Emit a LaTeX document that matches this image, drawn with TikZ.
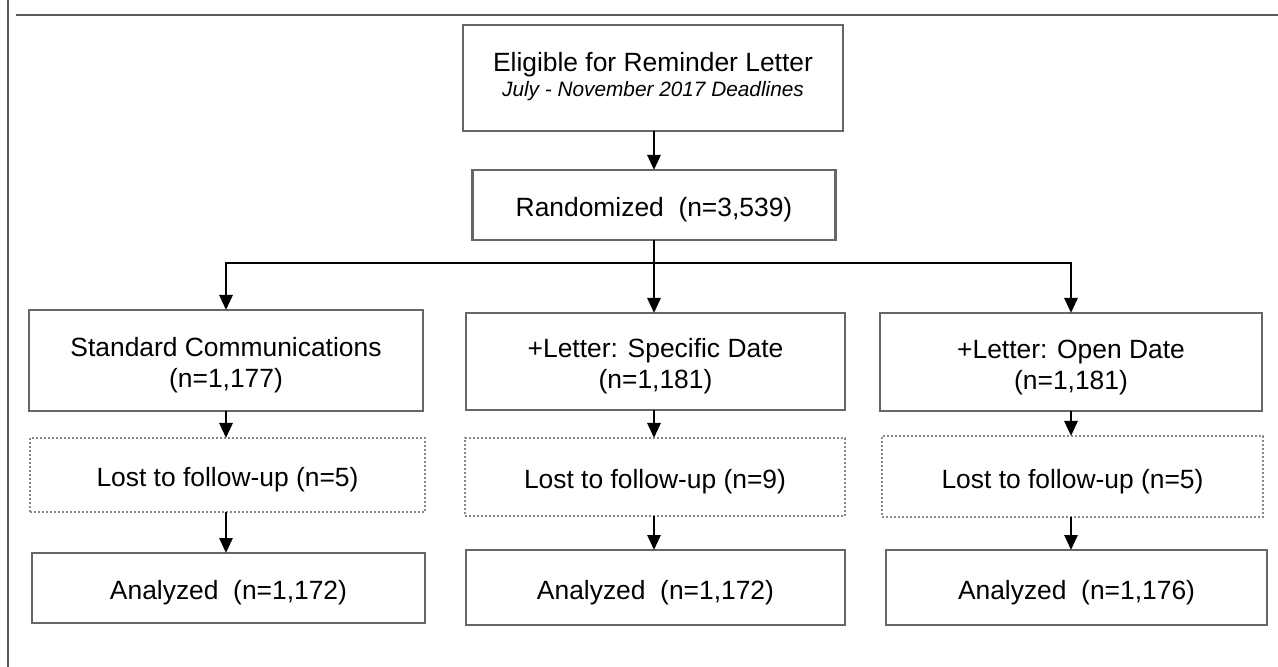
\documentclass[tikz,border=0pt]{standalone}
\usepackage{fontspec}
\setmainfont{Liberation Sans}
\usetikzlibrary{arrows.meta,calc}
\definecolor{boxgray}{HTML}{666666}
\definecolor{dotgray}{HTML}{888888}
\definecolor{framegray}{HTML}{5A5A5A}
\newcommand{\tx}[1]{\raisebox{-2.8pt}[\height][\depth]{\begin{tabular}{@{}c@{}}#1\end{tabular}}}
\begin{document}
\begin{tikzpicture}[x=0.5pt,y=-0.5pt,
  every node/.style={font=\fontsize{13.2}{15.5}\selectfont, inner sep=0pt, outer sep=0pt},
  solidbox/.style={draw=boxgray, line width=1.4pt, rectangle},
  dotbox/.style={draw=dotgray, line width=0.8pt, dash pattern=on 1pt off 1pt, rectangle},
  arr/.style={draw=black, line width=1.4pt, -{Triangle[length=7.5pt,width=6.5pt]}},
  conn/.style={draw=black, line width=1.4pt},
  frameline/.style={draw=framegray, line width=1pt}
]
\useasboundingbox (0,0) rectangle (1278,667);
% frame
\coordinate (ftop) at (8,0);
\coordinate (fbot) at (8,667);
\coordinate (hl) at (16,15);
\coordinate (hr) at (1278,15);
\draw[frameline] (ftop) -- (fbot);
\draw[frameline] (hl) -- (hr);

% top boxes
\node[solidbox, minimum width=190pt, minimum height=53pt] (elig) at (653,78)
  {\begin{tabular}{@{}c@{}}Eligible for Reminder Letter\\[-3pt]{\fontsize{10.4}{12}\selectfont\itshape July - November 2017 Deadlines}\end{tabular}};
\node[solidbox, minimum width=181.5pt, minimum height=35pt] (rand) at (654,205) {\tx{Randomized\ \ (n=3,539)}};

% arms
\node[solidbox, minimum width=197pt, minimum height=50.5pt] (armA) at (226,360.5) {\tx{Standard Communications\\(n=1,177)}};
\node[solidbox, minimum width=189.5pt, minimum height=48.5pt] (armB) at (655.5,361.5) {\tx{+Letter: Specific Date\\(n=1,181)}};
\node[solidbox, minimum width=191pt, minimum height=49pt] (armC) at (1071,362) {\tx{+Letter: Open Date\\(n=1,181)}};

% lost
\node[dotbox, minimum width=197.5pt, minimum height=37pt] (lostA) at (227.5,475) {\tx{Lost to follow-up (n=5)}};
\node[dotbox, minimum width=190pt, minimum height=39pt] (lostB) at (655,477) {\tx{Lost to follow-up (n=9)}};
\node[dotbox, minimum width=190.5pt, minimum height=40.5pt] (lostC) at (1072.5,476.5) {\tx{Lost to follow-up (n=5)}};

% analyzed
\node[solidbox, minimum width=196.5pt, minimum height=35pt] (anaA) at (228.5,588) {\tx{Analyzed\ \ (n=1,172)}};
\node[solidbox, minimum width=189.5pt, minimum height=37.5pt] (anaB) at (655.5,587.5) {\tx{Analyzed\ \ (n=1,172)}};
\node[solidbox, minimum width=190.5pt, minimum height=37.5pt] (anaC) at (1076.5,587.5) {\tx{Analyzed\ \ (n=1,176)}};

% connectors
\coordinate (hub) at (654,263);
\draw[arr] (elig.south -| rand.north) -- (rand.north);
\draw[conn] (rand.south) -- (hub);
\draw[arr] (hub) -| (armA.north);
\draw[arr] (hub) -- (hub |- armB.north);
\draw[arr] (hub) -| (armC.north);

\draw[arr] (armA.south) -- (armA.south |- lostA.north);
\draw[arr] (armB.south -| hub) -- (hub |- lostB.north);
\draw[arr] (armC.south -| armC.north) -- (armC.north |- lostC.north);

\draw[arr] (lostA.south -| armA.south) -- (armA.south |- anaA.north);
\draw[arr] (lostB.south -| hub) -- (hub |- anaB.north);
\draw[arr] (lostC.south -| armC.north) -- (armC.north |- anaC.north);
\end{tikzpicture}
\end{document}
